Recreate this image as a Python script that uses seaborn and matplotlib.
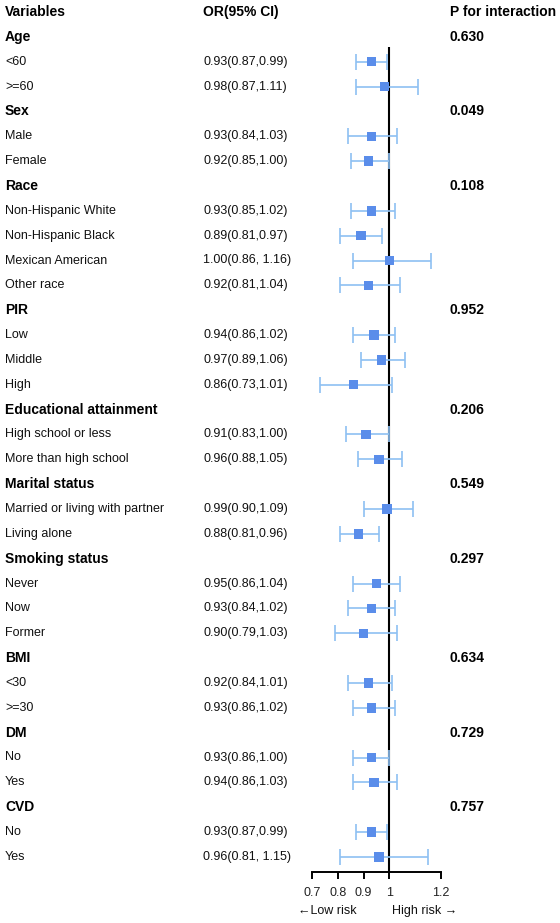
import matplotlib
matplotlib.use("Agg")
import matplotlib.pyplot as plt
import matplotlib.transforms as mtransforms
import seaborn as sns
import pandas as pd

# ---------------- data ----------------
groups = ["Age", "Sex", "Race", "PIR", "Educational attainment", "Marital status",
          "Smoking status", "BMI", "DM", "CVD"]
p_interaction = ["0.630", "0.049", "0.108", "0.952", "0.206", "0.549",
                 "0.297", "0.634", "0.729", "0.757"]
subgroups = [
    ["<60", ">=60"],
    ["Male", "Female"],
    ["Non-Hispanic White", "Non-Hispanic Black", "Mexican American", "Other race"],
    ["Low", "Middle", "High"],
    ["High school or less", "More than high school"],
    ["Married or living with partner", "Living alone"],
    ["Never", "Now", "Former"],
    ["<30", ">=30"],
    ["No", "Yes"],
    ["No", "Yes"],
]
or_values = [
    [0.93, 0.98],
    [0.93, 0.92],
    [0.93, 0.89, 1.00, 0.92],
    [0.94, 0.97, 0.86],
    [0.91, 0.96],
    [0.99, 0.88],
    [0.95, 0.93, 0.90],
    [0.92, 0.93],
    [0.93, 0.94],
    [0.93, 0.96],
]
ci_lower = [
    [0.87, 0.87],
    [0.84, 0.85],
    [0.85, 0.81, 0.86, 0.81],
    [0.86, 0.89, 0.73],
    [0.83, 0.88],
    [0.90, 0.81],
    [0.86, 0.84, 0.79],
    [0.84, 0.86],
    [0.86, 0.86],
    [0.87, 0.81],
]
ci_upper = [
    [0.99, 1.11],
    [1.03, 1.00],
    [1.02, 0.97, 1.16, 1.04],
    [1.02, 1.06, 1.01],
    [1.00, 1.05],
    [1.09, 0.96],
    [1.04, 1.02, 1.03],
    [1.01, 1.02],
    [1.00, 1.03],
    [0.99, 1.15],
]
or_text = [
    ["0.93(0.87,0.99)", "0.98(0.87,1.11)"],
    ["0.93(0.84,1.03)", "0.92(0.85,1.00)"],
    ["0.93(0.85,1.02)", "0.89(0.81,0.97)", "1.00(0.86, 1.16)", "0.92(0.81,1.04)"],
    ["0.94(0.86,1.02)", "0.97(0.89,1.06)", "0.86(0.73,1.01)"],
    ["0.91(0.83,1.00)", "0.96(0.88,1.05)"],
    ["0.99(0.90,1.09)", "0.88(0.81,0.96)"],
    ["0.95(0.86,1.04)", "0.93(0.84,1.02)", "0.90(0.79,1.03)"],
    ["0.92(0.84,1.01)", "0.93(0.86,1.02)"],
    ["0.93(0.86,1.00)", "0.94(0.86,1.03)"],
    ["0.93(0.87,0.99)", "0.96(0.81, 1.15)"],
]
x_ticks = [0.7, 0.8, 0.9, 1, 1.2]
x_tick_labels = ["0.7", "0.8", "0.9", "1", "1.2"]
header = ["Variables", "OR(95% CI)", "P for interaction"]

# ---------------- build table ----------------
rows = []
r = 1
for g, p, subs, ors, los, his, txts in zip(groups, p_interaction, subgroups,
                                           or_values, ci_lower, ci_upper, or_text):
    rows.append(dict(row=r, label=g, header=True, p=p, OR=None, lo=None, hi=None, txt=""))
    r += 1
    for s, o, lo, hi, t in zip(subs, ors, los, his, txts):
        rows.append(dict(row=r, label=s, header=False, p="", OR=o, lo=lo, hi=hi, txt=t))
        r += 1
df = pd.DataFrame(rows)
data = df[~df["header"]].copy()
data["OR"] = data["OR"].astype(float)
data["lo"] = data["lo"].astype(float)
data["hi"] = data["hi"].astype(float)

# ---------------- style ----------------
sns.set_theme(style="white")
plt.rcParams["font.family"] = ["Liberation Sans", "DejaVu Sans"]

W, H = 560, 923
fig = plt.figure(figsize=(W / 100, H / 100), dpi=100)
fig.patch.set_facecolor("white")

row0_px = 12.0
row_step = 24.85
axis_px = 872.0
left_px, right_px = 312.0, 441.0

ax = fig.add_axes([left_px / W, (H - axis_px) / H, (right_px - left_px) / W, axis_px / H])
ax.set_facecolor("none")
y_top = -row0_px / row_step
y_bot = (axis_px - row0_px) / row_step
ax.set_xlim(0.7, 1.2)
ax.set_ylim(y_bot, y_top)

marker_color = "#5A8DEA"
ci_color = "#8DC0F2"

# reference line
ax.vlines(1.0, (47 - row0_px) / row_step, y_bot, color="black", lw=1.5, zorder=1)

# confidence intervals
ax.errorbar(data["OR"], data["row"],
            xerr=[data["OR"] - data["lo"], data["hi"] - data["OR"]],
            fmt="none", ecolor=ci_color, elinewidth=1.2, capsize=6, capthick=1.2,
            zorder=2, clip_on=False)

# point estimates
sns.scatterplot(data=data, x="OR", y="row", marker="s", s=46, color=marker_color,
                edgecolor="none", linewidth=0, ax=ax, zorder=3, clip_on=False, legend=False)

ax.set_xlabel("")
ax.set_ylabel("")
ax.set_yticks([])
ax.set_xticks(x_ticks)
ax.set_xticklabels(x_tick_labels, fontsize=9, color="#222222")
for side in ["top", "right", "left"]:
    ax.spines[side].set_visible(False)
ax.spines["bottom"].set_linewidth(1.4)
ax.spines["bottom"].set_color("black")
ax.tick_params(axis="x", direction="out", length=5, width=1.4, color="black", pad=6,
               bottom=True)
ax.grid(False)

# ---------------- text columns ----------------
trans = mtransforms.blended_transform_factory(fig.transFigure, ax.transData)
x_var = 5 / W
x_or = 203 / W
x_p = 450 / W

ax.text(x_var, 0, header[0], transform=trans, ha="left", va="center",
        fontsize=10, fontweight="bold", color="black", clip_on=False)
ax.text(x_or, 0, header[1], transform=trans, ha="left", va="center",
        fontsize=10, fontweight="bold", color="black", clip_on=False)
ax.text(x_p, 0, header[2], transform=trans, ha="left", va="center",
        fontsize=10, fontweight="bold", color="black", clip_on=False)

for _, rw in df.iterrows():
    if rw["header"]:
        ax.text(x_var, rw["row"], rw["label"], transform=trans, ha="left", va="center",
                fontsize=10, fontweight="bold", color="black", clip_on=False)
        ax.text(x_p, rw["row"], rw["p"], transform=trans, ha="left", va="center",
                fontsize=10, fontweight="bold", color="black", clip_on=False)
    else:
        ax.text(x_var, rw["row"], rw["label"], transform=trans, ha="left", va="center",
                fontsize=9, color="#111111", clip_on=False)
        ax.text(x_or, rw["row"], rw["txt"], transform=trans, ha="left", va="center",
                fontsize=9, color="#111111", clip_on=False)

fig.text(298 / W, (H - 911) / H, "\u2190Low risk", ha="left", va="center",
         fontsize=9, color="#111111")
fig.text(392 / W, (H - 911) / H, "High risk \u2192", ha="left", va="center",
         fontsize=9, color="#111111")

fig.savefig("out.png", dpi=100, facecolor="white")
